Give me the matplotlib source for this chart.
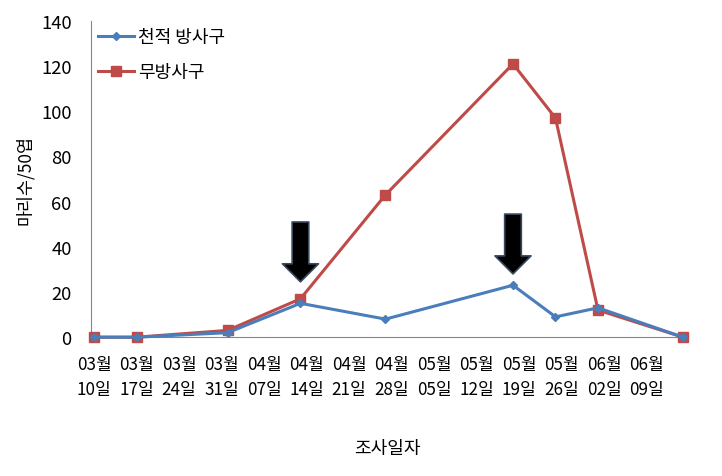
import numpy as np
import matplotlib
matplotlib.use("Agg")
import matplotlib.pyplot as plt
from matplotlib.patches import FancyArrowPatch, ArrowStyle

plt.rcParams['font.family'] = ['Noto Sans CJK KR', 'DejaVu Sans']

# Survey dates and counts
dates = ['2013-03-10', '2013-03-17', '2013-04-01', '2013-04-13', '2013-04-27',
         '2013-05-18', '2013-05-25', '2013-06-01', '2013-06-15']
natural_enemy = [0, 0, 2, 15, 8, 23, 9, 13, 0]      # 천적 방사구
untreated = [0, 0, 3, 17, 63, 121, 97, 12, 0]        # 무방사구
series_names = ['천적 방사구', '무방사구']

tick_dates = ['2013-03-10', '2013-03-17', '2013-03-24', '2013-03-31', '2013-04-07',
              '2013-04-14', '2013-04-21', '2013-04-28', '2013-05-05', '2013-05-12',
              '2013-05-19', '2013-05-26', '2013-06-02', '2013-06-09']
tick_labels = ['03월\n10일', '03월\n17일', '03월\n24일', '03월\n31일', '04월\n07일',
               '04월\n14일', '04월\n21일', '04월\n28일', '05월\n05일', '05월\n12일',
               '05월\n19일', '05월\n26일', '06월\n02일', '06월\n09일']

# release arrows: (date, top, tip)
arrow_dates = ['2013-04-13', '2013-05-18']
arrow_top = [51, 54.5]
arrow_tip = [24.5, 28]

start = np.datetime64(dates[0])
days = (np.array(dates, dtype='datetime64[D]') - start).astype(int)
tick_days = (np.array(tick_dates, dtype='datetime64[D]') - start).astype(int)
arrow_days = (np.array(arrow_dates, dtype='datetime64[D]') - start).astype(int)

blue = '#4A7EBB'
red = '#BE4B48'
gray = '#868686'

fig = plt.figure(figsize=(7.22, 4.77), dpi=100)
ax = fig.add_axes([0.126, 0.291, 0.82, 0.663])

ax.plot(days, untreated, color=red, lw=2.2, marker='s', markersize=7.5,
        label=series_names[1], clip_on=False, zorder=3)
ax.plot(days, natural_enemy, color=blue, lw=2.2, marker='D', markersize=4.5,
        label=series_names[0], clip_on=False, zorder=4)

for d, top, tip in zip(arrow_days, arrow_top, arrow_tip):
    arr = FancyArrowPatch((d, top), (d, tip),
                          arrowstyle=ArrowStyle.Simple(head_length=13, head_width=26, tail_width=12),
                          mutation_scale=1, shrinkA=0, shrinkB=0,
                          facecolor='black', edgecolor='#3A4A5E', lw=1.2, zorder=5)
    ax.add_patch(arr)

ax.set_xlim(-0.5, 97)
ax.set_ylim(0, 140)
ax.set_yticks(np.arange(0, 141, 20))
ax.set_xticks(tick_days)
ax.set_xticklabels(tick_labels, linespacing=1.45)
ax.tick_params(axis='x', length=0, pad=13, labelsize=12.3)
ax.tick_params(axis='y', length=0, pad=14, labelsize=13.3)

for s in ['top', 'right']:
    ax.spines[s].set_visible(False)
ax.spines['left'].set_color(gray)
ax.spines['bottom'].set_color(gray)

ax.set_ylabel('마리수/50엽', fontsize=12.5, labelpad=5)
ax.set_xlabel('조사일자', fontsize=13, labelpad=30)

handles, labels = ax.get_legend_handles_labels()
ax.legend(handles[::-1], labels[::-1], loc='upper left', frameon=False,
          fontsize=13, handlelength=2.0, labelspacing=0.95, handletextpad=0.2,
          borderaxespad=0.0, bbox_to_anchor=(0.0, 1.0))

fig.savefig('out.png', dpi=100)
